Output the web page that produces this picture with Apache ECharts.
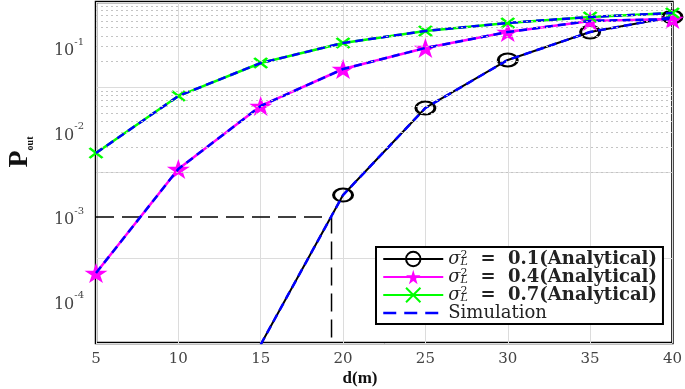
<!DOCTYPE html>
<html><head><meta charset="utf-8">
<script src="https://cdn.jsdelivr.net/npm/echarts@6/dist/echarts.min.js"></script>
<style>html,body{margin:0;padding:0;background:#fff}#c{width:685px;height:389px}</style>
</head><body><div id="c"></div>
<script>
// ---- data ----
const distances = [5, 10, 15, 20, 25, 30, 35, 40];
const pSigma01 = [null, null, 3.1e-5, 1.82e-3, 0.0195, 0.0721, 0.1545, 0.233];
const pSigma04 = [2.17e-4, 3.70e-3, 0.0206, 0.0564, 0.100, 0.1545, 0.209, 0.220];
const pSigma07 = [5.71e-3, 0.0270, 0.0664, 0.1146, 0.159, 0.198, 0.233, 0.259];
const sigmaLabels = ['0.1', '0.4', '0.7'];
const seriesNames = ['s01', 's04', 's07', 'Simulation'];
const threshold = 1e-3;
const thresholdDistance = 19.3;
const yMin = 3.23e-5, yMax = 0.35;
const gridDecades = [-4, -3, -2, -1];

const pairs = arr => distances.map((d, i) => [d, arr[i]]);
const minorVals = [];
gridDecades.forEach(k => { for (let m = 2; m <= 9; m++) minorVals.push(m * Math.pow(10, k)); });

const STAR = 'path://M50,0 L61,35 L98,35 L68,57 L79,91 L50,70 L21,91 L32,57 L2,35 L39,35 Z';
const XMARK = 'path://M0,0 L10,10 M10,0 L0,10';
const serif = 'DejaVu Serif';

const chart = echarts.init(document.getElementById('c'));
const analytical = (name, data, color, symbol, size, itemStyle, width) => ({
  name, type: 'line', data: pairs(data), yAxisIndex: 0,
  symbol, symbolSize: size, showSymbol: true,
  lineStyle: { color, width },
  itemStyle, z: 3, emphasis: { disabled: true }
});
const sim = data => ({
  name: 'Simulation', type: 'line', data: pairs(data), yAxisIndex: 0,
  symbol: 'none', lineStyle: { color: '#0000ff', width: 2.5, type: [8, 5] },
  itemStyle: { color: 'rgba(0,0,0,0)', borderWidth: 0, opacity: 0 }, z: 4, emphasis: { disabled: true }
});

chart.setOption({
  animation: false,
  grid: { left: 96, right: 12, top: 2, bottom: 46, show: true, borderColor: '#000', borderWidth: 2.5, backgroundColor: '#fff' },
  xAxis: {
    type: 'value', min: 5, max: 40, interval: 5,
    axisLine: { show: false }, axisTick: { show: false },
    splitLine: { show: true, lineStyle: { color: '#dcdcdc', width: 1 } },
    axisLabel: { fontFamily: serif, fontSize: 15, color: '#444', margin: 9 }
  },
  yAxis: [{
    type: 'log', min: yMin, max: yMax,
    axisLine: { show: false }, axisTick: { show: false }, splitLine: { show: false },
    axisLabel: {
      margin: 12,
      formatter: v => {
        const l = Math.log10(v), r = Math.round(l);
        return Math.abs(l - r) < 1e-6 ? '{b|10}{e|' + r + '}' : '';
      },
      rich: {
        b: { fontFamily: serif, fontSize: 16, color: '#444', lineHeight: 22, verticalAlign: 'bottom' },
        e: { fontFamily: serif, fontSize: 10, color: '#444', lineHeight: 22, verticalAlign: 'top' }
      }
    }
  }, {
    type: 'log', min: 1e-4, max: 1, position: 'left',
    axisLine: { show: false }, axisTick: { show: false }, axisLabel: { show: false },
    splitLine: { show: true, lineStyle: { color: '#dcdcdc', width: 1 } }
  }],
  legend: {
    orient: 'vertical', left: 376, top: 247,
    data: seriesNames.map(n => n === 'Simulation'
      ? { name: n, lineStyle: { type: [13, 8], width: 2.5 } }
      : { name: n }),
    itemWidth: 60, itemHeight: 18, itemGap: 0,
    padding: [3, 6, 2, 6], borderColor: '#000', borderWidth: 2, backgroundColor: '#fff',
    formatter: name => {
      const i = seriesNames.indexOf(name);
      if (i === 3) return '{n|Simulation}';
      return '{g|σ}{sup|2}{sub|L}{t|  =  ' + sigmaLabels[i] + '(Analytical)}';
    },
    textStyle: {
      rich: {
        g: { fontFamily: serif, fontSize: 18, fontStyle: 'italic', color: '#222', lineHeight: 18 },
        sup: { fontFamily: serif, fontSize: 11, color: '#222', verticalAlign: 'top', width: 0, lineHeight: 18 },
        sub: { fontFamily: serif, fontSize: 11, fontStyle: 'italic', color: '#222', verticalAlign: 'bottom', lineHeight: 18 },
        t: { fontFamily: serif, fontSize: 18, fontWeight: 'bold', color: '#222', lineHeight: 18 },
        n: { fontFamily: serif, fontSize: 18, color: '#222', lineHeight: 18 }
      }
    }
  },
  graphic: [
    { type: 'text', x: 20, y: 152, rotation: Math.PI / 2,
      style: { text: '{p|P}{s|out}', align: 'center', verticalAlign: 'middle',
        rich: { p: { fontFamily: 'Liberation Serif', fontSize: 28, fontWeight: 'bold', fill: '#111', lineHeight: 30, verticalAlign: 'middle' },
                s: { fontFamily: 'Liberation Serif', fontSize: 10, fontWeight: 'bold', fill: '#111', lineHeight: 30, verticalAlign: 'bottom' } } } },
    { type: 'text', x: 360, y: 379,
      style: { text: 'd(m)', font: 'bold 17px "Liberation Serif"', fill: '#111', align: 'center', verticalAlign: 'middle' } }
  ],
  series: [
    { name: 'minorGrid', type: 'line', yAxisIndex: 1, data: [], silent: true,
      markLine: { silent: true, symbol: ['none', 'none'], label: { show: false }, animation: false,
        lineStyle: { color: '#c4c4c4', type: [2, 3], width: 1 },
        data: minorVals.map(v => ({ yAxis: v })) } },
    { name: 'threshold', type: 'line', yAxisIndex: 0, silent: true, symbol: 'none', z: 2,
      data: [[distances[0], threshold], [thresholdDistance, threshold], [thresholdDistance, yMin]],
      lineStyle: { color: '#000', width: 1.5, type: [18, 8] } },
    analytical('s01', pSigma01, '#000000', 'circle', [19, 13], { color: 'rgba(0,0,0,0)', borderColor: '#000', borderWidth: 2.5 }, 2),
    analytical('s04', pSigma04, '#ff00ff', STAR, [23, 20], { color: '#ff00ff', borderColor: '#ff00ff', borderWidth: 0 }, 2.5),
    analytical('s07', pSigma07, '#00ff00', XMARK, [13, 10], { color: '#00ff00', borderColor: '#00ff00', borderWidth: 2.5 }, 2.5),
    sim(pSigma01), sim(pSigma04), sim(pSigma07)
  ]
});
</script></body></html>
